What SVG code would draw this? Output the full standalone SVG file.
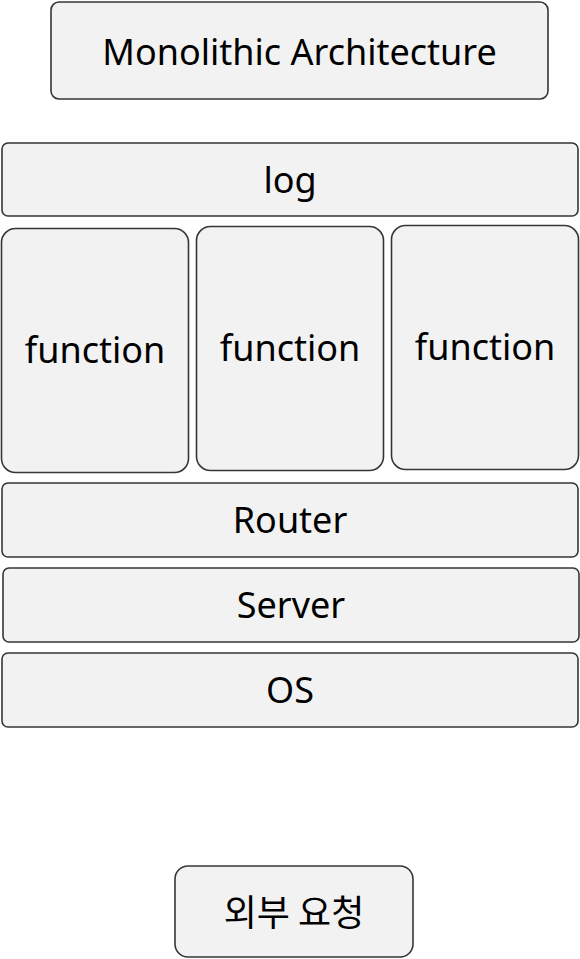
<svg xmlns="http://www.w3.org/2000/svg" width="580" height="959" viewBox="0 0 580 959">
<style>
.box{fill:#f2f2f2;stroke:#363636;stroke-width:1.6}
.t{font-family:"Noto Sans","Noto Sans CJK KR",sans-serif;font-size:36px;fill:#000;text-anchor:middle}
.k{font-family:"Noto Sans CJK KR","Noto Sans",sans-serif;font-size:36px;fill:#000;text-anchor:middle}
</style>
<rect width="580" height="959" fill="#ffffff"/>
<g id="connectors"></g>
<g id="title"><rect class="box" x="51" y="2" width="497" height="97" rx="8"/><text class="t" x="299.5" y="65">Monolithic Architecture</text></g>
<g id="log"><rect class="box" x="2" y="143" width="576" height="73" rx="6"/><text class="t" x="290" y="193">log</text></g>
<g id="function1"><rect class="box" x="1.5" y="228.5" width="187" height="244" rx="14"/><text class="t" x="95" y="363">function</text></g>
<g id="function2"><rect class="box" x="196.5" y="226.5" width="187" height="244" rx="14"/><text class="t" x="290" y="361">function</text></g>
<g id="function3"><rect class="box" x="391.5" y="225.5" width="187" height="244" rx="14"/><text class="t" x="485" y="360">function</text></g>
<g id="router"><rect class="box" x="2" y="483" width="576" height="74" rx="6"/><text class="t" x="290" y="533">Router</text></g>
<g id="server"><rect class="box" x="3" y="568" width="576" height="74" rx="6"/><text class="t" x="291" y="618">Server</text></g>
<g id="os"><rect class="box" x="2" y="653" width="576" height="74" rx="6"/><text class="t" x="290" y="703">OS</text></g>
<g id="external-request"><rect class="box" x="175" y="866" width="238" height="91" rx="13"/><text class="k" x="294" y="926">외부 요청</text></g>
</svg>
